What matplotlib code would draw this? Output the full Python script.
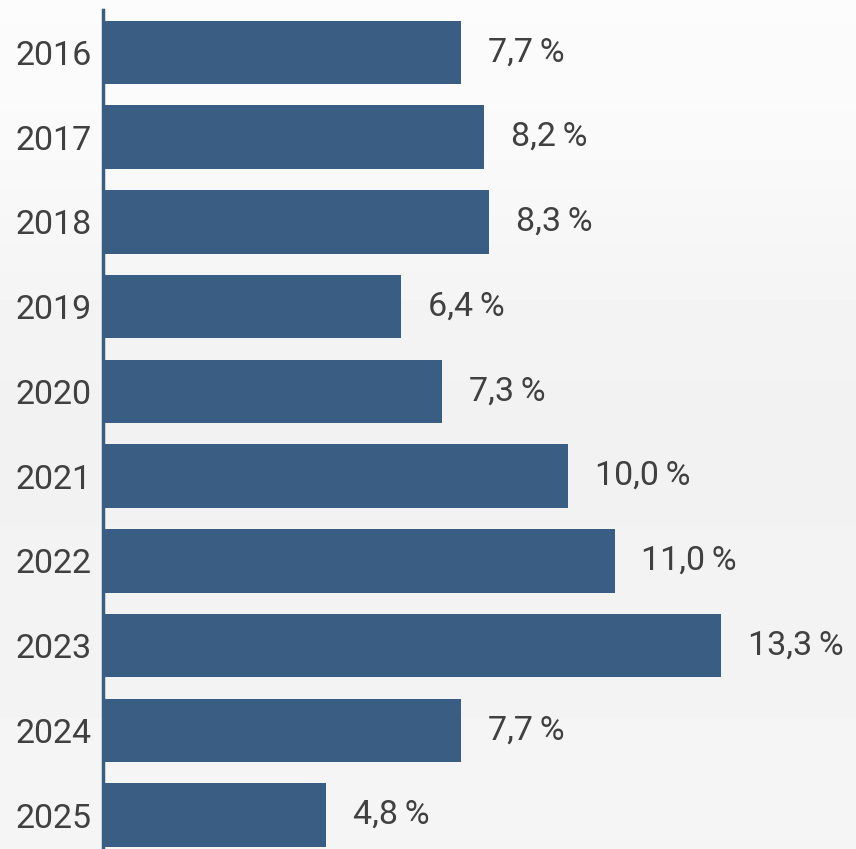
import matplotlib
matplotlib.use("Agg")
import matplotlib.pyplot as plt
import numpy as np

years = ["2016", "2017", "2018", "2019", "2020", "2021", "2022", "2023", "2024", "2025"]
values = [7.7, 8.2, 8.3, 6.4, 7.3, 10.0, 11.0, 13.3, 7.7, 4.8]
value_labels = ["7,7\u202f%", "8,2\u202f%", "8,3\u202f%", "6,4\u202f%", "7,3\u202f%",
                "10,0\u202f%", "11,0\u202f%", "13,3\u202f%", "7,7\u202f%", "4,8\u202f%"]

plt.rcParams['font.family'] = ['Roboto', 'DejaVu Sans']

bar_color = "#3a5e83"
text_color = "#404040"

fig = plt.figure(figsize=(8.56, 8.49), dpi=100)

# faded background instead of the photo
bg = fig.add_axes([0, 0, 1, 1])
grad = np.array([[0.985], [0.975], [0.955], [0.945], [0.95], [0.955], [0.96]])
bg.imshow(grad, aspect='auto', cmap='gray', vmin=0, vmax=1, extent=[0, 1, 0, 1],
          interpolation='bicubic')
bg.set_axis_off()

ax = fig.add_axes([103 / 856, 0, 1 - 103 / 856, 1 - 10 / 849])
ax.patch.set_alpha(0)

y = np.arange(len(years))
ax.barh(y, values, height=0.75, color=bar_color)

for yi, v, lab in zip(y, values, value_labels):
    ax.text(v + 0.58, yi, lab, va='center', ha='left', fontsize=24.5, color=text_color)

ax.set_xlim(0, 753 / 46.5)
ax.set_ylim(9.4, -0.5)
ax.set_yticks(y)
ax.set_yticklabels(years, fontsize=24.5, color=text_color)
ax.tick_params(axis='y', length=0, pad=8)
ax.set_xticks([])

for s in ['top', 'right', 'bottom']:
    ax.spines[s].set_visible(False)
ax.spines['left'].set_color(bar_color)
ax.spines['left'].set_linewidth(2.5)

fig.savefig("out.png", dpi=100)
